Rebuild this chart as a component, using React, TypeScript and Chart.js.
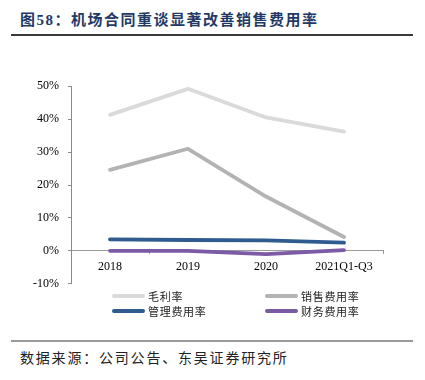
import React, { useEffect, useRef } from "react";
import { Chart, registerables } from "chart.js";

Chart.register(...registerables);

const categories = ["2018", "2019", "2020", "2021Q1-Q3"];
const grossMargin = [41.3, 49.2, 40.5, 36.2];
const sellingRate = [24.6, 31.0, 16.5, 4.2];
const adminRate = [3.5, 3.3, 3.2, 2.5];
const financeRate = [0.0, 0.0, -1.0, 0.2];
const seriesNames = ["毛利率", "销售费用率", "管理费用率", "财务费用率"];
const seriesColors = ["#dadada", "#b3b3b3", "#2f5b8f", "#7b5aa6"];
const yMin = -10;
const yMax = 50;
const yStep = 10;

const titleText = "图58：机场合同重谈显著改善销售费用率";
const sourceText = "数据来源：公司公告、东吴证券研究所";

export default function App() {
  const canvasRef = useRef<HTMLCanvasElement | null>(null);

  useEffect(() => {
    if (!canvasRef.current) return;
    const seriesData = [grossMargin, sellingRate, adminRate, financeRate];
    const chart = new Chart(canvasRef.current, {
      type: "line",
      data: {
        labels: categories,
        datasets: seriesNames.map((name, i) => ({
          label: name,
          data: seriesData[i],
          borderColor: seriesColors[i],
          backgroundColor: seriesColors[i],
          borderWidth: 3.8,
          pointRadius: 0,
          tension: 0,
          fill: false,
          borderJoinStyle: "round" as const,
          borderCapStyle: "round" as const,
          order: 4 - i,
        })),
      },
      options: {
        responsive: false,
        animation: false,
        layout: { padding: { top: 16, bottom: 15, right: 42, left: 0 } },
        plugins: {
          legend: { display: false },
          tooltip: { enabled: false },
        },
        scales: {
          x: {
            type: "category",
            position: { y: 0 } as any,
            offset: true,
            grid: {
              display: true,
              drawOnChartArea: false,
              drawTicks: true,
              tickLength: 3,
              color: "#9a9a9a",
              offset: true,
            },
            border: { display: true, color: "#9a9a9a", width: 1 },
            ticks: {
              color: "#000",
              font: { family: "Liberation Serif", size: 12 },
              padding: 6,
              maxRotation: 0,
              autoSkip: false,
            },
          },
          y: {
            type: "linear",
            min: yMin,
            max: yMax,
            ticks: {
              stepSize: yStep,
              callback: (v: any) => `${v}%`,
              color: "#000",
              font: { family: "Liberation Serif", size: 12 },
              padding: 9,
            },
            grid: {
              drawOnChartArea: false,
              drawTicks: true,
              tickLength: 3,
              color: "#8a8a8a",
            },
            border: { display: true, color: "#8a8a8a", width: 1 },
            afterFit: (s: any) => {
              s.width = 71;
            },
          },
        },
      },
    });
    return () => chart.destroy();
  }, []);

  const cjk = '"Noto Sans CJK SC", sans-serif';

  return (
    <div
      style={{
        position: "absolute",
        left: 0,
        top: 0,
        width: 425,
        height: 380,
        background: "#fff",
        overflow: "hidden",
      }}
    >
      <div
        style={{
          position: "absolute",
          left: 20,
          top: 9,
          fontFamily: '"Liberation Serif", "Noto Sans CJK SC", serif',
          fontWeight: 700,
          fontSize: 15,
          letterSpacing: 1.5,
          color: "#1f3a66",
          lineHeight: "22px",
          whiteSpace: "nowrap",
        }}
      >
        {titleText}
      </div>
      <div
        style={{
          position: "absolute",
          left: 11,
          top: 34,
          width: 402,
          height: 2,
          background: "#3a3a3a",
        }}
      />
      <canvas
        ref={canvasRef}
        width={425}
        height={230}
        style={{ position: "absolute", left: 0, top: 70, width: 425, height: 230 }}
      />
      {seriesNames.map((name, i) => {
        const col = i % 2;
        const row = Math.floor(i / 2);
        const lx = col === 0 ? 112 : 265;
        const cy = row === 0 ? 296 : 311;
        return (
          <React.Fragment key={name}>
            <div
              style={{
                position: "absolute",
                left: lx,
                top: cy - 2,
                width: 33,
                height: 4,
                borderRadius: 2,
                background: seriesColors[i],
              }}
            />
            <div
              style={{
                position: "absolute",
                left: lx + 36,
                top: cy - 8,
                fontFamily: cjk,
                fontSize: 11,
                letterSpacing: 0.7,
                lineHeight: "16px",
                color: "#222",
                whiteSpace: "nowrap",
              }}
            >
              {name}
            </div>
          </React.Fragment>
        );
      })}
      <div
        style={{
          position: "absolute",
          left: 11,
          top: 340,
          width: 402,
          height: 1.5,
          background: "#9a9a9a",
        }}
      />
      <div
        style={{
          position: "absolute",
          left: 20,
          top: 348,
          fontFamily: cjk,
          fontSize: 14,
          letterSpacing: 1.8,
          lineHeight: "18px",
          color: "#222",
          whiteSpace: "nowrap",
        }}
      >
        {sourceText}
      </div>
    </div>
  );
}
